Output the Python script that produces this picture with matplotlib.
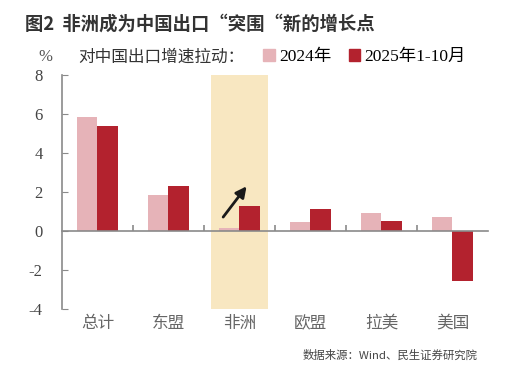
import numpy as np
import matplotlib.pyplot as plt
from matplotlib.patches import Patch

plt.rcParams['font.family'] = ['Noto Sans CJK SC', 'DejaVu Sans']

categories = ["总计", "东盟", "非洲", "欧盟", "拉美", "美国"]
y2024 = [5.85, 1.85, 0.15, 0.45, 0.92, 0.72]
y2025 = [5.4, 2.3, 1.28, 1.12, 0.5, -2.56]
yticks = [-4, -2, 0, 2, 4, 6, 8]
ytick_labels = ["-4", "-2", "0", "2", "4", "6", "8"]

c2024 = "#e6b3b8"
c2025 = "#b3222e"
grey = "#8a8a8a"
serif = ["Liberation Serif", "Noto Sans CJK SC"]

fig = plt.figure(figsize=(5.27, 3.76), dpi=100)
ax = fig.add_axes([0.1176, 0.178, 0.8084, 0.622])

x = np.arange(len(categories))
w = 0.29
ax.axvspan(1.6, 2.4, color="#f8e7c1", zorder=0, lw=0)
ax.bar(x - w / 2, y2024, width=w, color=c2024, zorder=2)
ax.bar(x + w / 2, y2025, width=w, color=c2025, zorder=2)

# arrow over 非洲
ax.annotate("", xy=(2.1, 2.3), xytext=(1.77, 0.72),
            arrowprops=dict(arrowstyle="-|>", color="#1a1a1a", lw=2,
                            mutation_scale=16, shrinkA=0, shrinkB=0), zorder=3)

ax.set_xlim(-0.5, len(categories) - 0.5)
ax.set_ylim(-4, 8)
ax.set_yticks(yticks)
ax.set_yticklabels(ytick_labels, fontfamily=serif, fontsize=12, color="#444444")
ax.tick_params(axis="y", direction="in", length=4, color=grey, pad=14)

for s in ["top", "right"]:
    ax.spines[s].set_visible(False)
ax.spines["left"].set_color(grey)
ax.spines["left"].set_linewidth(1.2)
ax.spines["bottom"].set_position(("data", 0))
ax.spines["bottom"].set_color(grey)
ax.spines["bottom"].set_linewidth(1.2)
ax.set_xticks(x)
ax.set_xticklabels([])
ax.tick_params(axis="x", which="major", length=0)
ax.set_xticks(x[:-1] + 0.5, minor=True)
ax.tick_params(axis="x", which="minor", direction="in", length=4, color=grey, width=1.2)

for xi, lab in zip(x, categories):
    ax.text(xi, -0.025, lab, transform=ax.get_xaxis_transform(), ha="center", va="top",
            fontsize=12, color="#666666")

fig.text(0.047, 0.935, "图2  非洲成为中国出口“突围“新的增长点", fontsize=13.2,
         fontweight="bold", color="#333333", va="center")
fig.text(0.072, 0.848, "%", fontfamily=serif, fontsize=12, color="#555555", va="center")
fig.text(0.148, 0.848, "对中国出口增速拉动：", fontsize=12, color="#333333", va="center")
handles = [Patch(color=c2024), Patch(color=c2025)]
fig.legend(handles, ["2024年", "2025年1-10月"], loc="center left",
           bbox_to_anchor=(0.47, 0.848), ncol=2, frameon=False,
           handlelength=0.65, handleheight=0.65, handletextpad=0.25, columnspacing=1.0,
           prop={"family": serif, "size": 12.5})
fig.text(0.907, 0.055, "数据来源：Wind、民生证券研究院", fontsize=8.2, color="#444444",
         ha="right", va="center")

fig.savefig("out.png", dpi=100)
